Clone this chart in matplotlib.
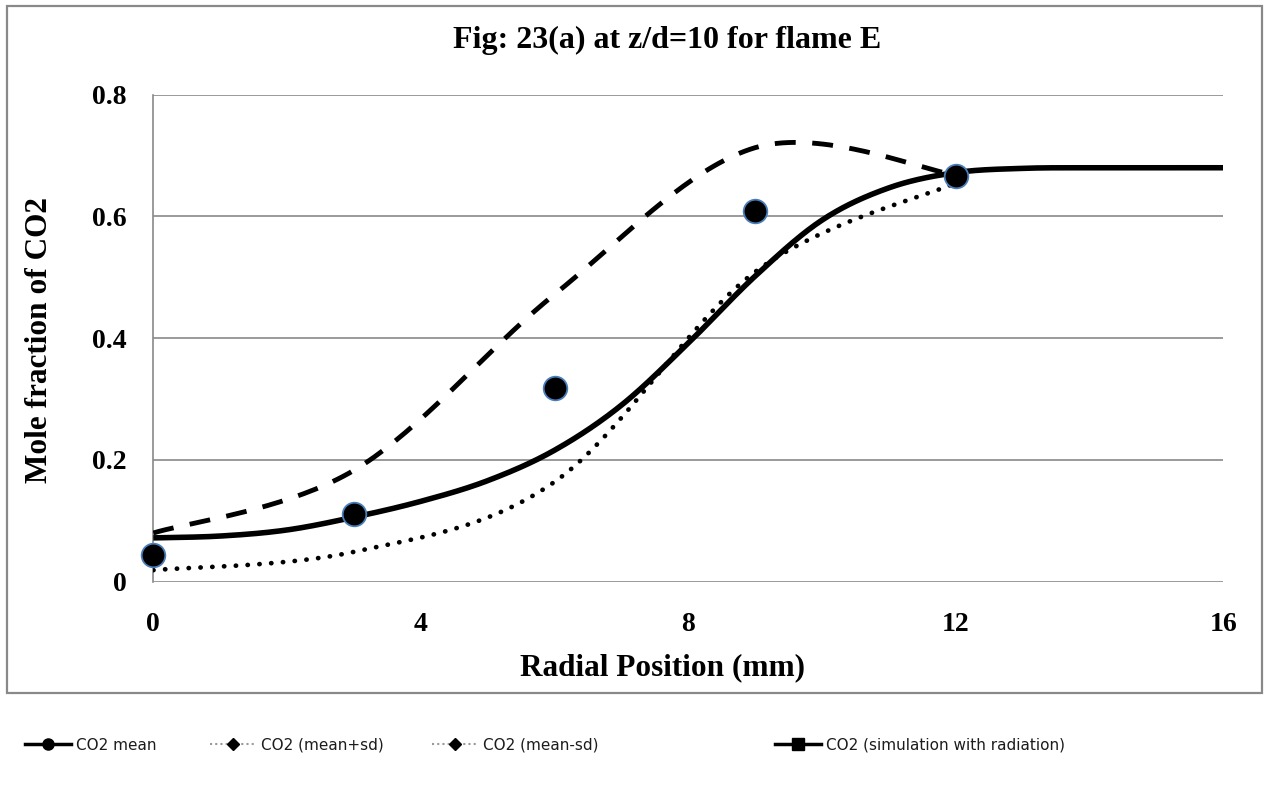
import numpy as np
import matplotlib
matplotlib.use("Agg")
import matplotlib.pyplot as plt
from matplotlib.lines import Line2D
from matplotlib.patches import Rectangle

# ---- data -------------------------------------------------------------
radial_mm = [0, 3, 6, 9, 12]
co2_mean = [0.044, 0.111, 0.318, 0.609, 0.666]
co2_mean_plus_sd = [0.080, 0.183, 0.472, 0.713, 0.668]
co2_mean_minus_sd = [0.019, 0.049, 0.164, 0.509, 0.655]

sim_radial_mm = [0, 1, 2, 3, 4, 5, 6, 7, 8, 9, 10, 11, 12, 13, 14, 15, 16]
co2_sim_radiation = [0.072, 0.075, 0.085, 0.106, 0.132, 0.166, 0.216, 0.290,
                     0.392, 0.502, 0.594, 0.647, 0.672, 0.679, 0.680, 0.680, 0.680]

x_ticks = [0, 4, 8, 12, 16]
y_ticks = [0, 0.2, 0.4, 0.6, 0.8]
y_tick_labels = ["0", "0.2", "0.4", "0.6", "0.8"]

title = "Fig: 23(a) at z/d=10 for flame E"
x_label = "Radial Position (mm)"
y_label = "Mole fraction of CO2"
legend_labels = ["CO2 mean", "CO2 (mean+sd)", "CO2 (mean-sd)",
                 "CO2 (simulation with radiation)"]


def smooth(xs, ys, n=40):
    """Spreadsheet-style smoothed line: cubic Bezier segments with
    Catmull-Rom control points (end points duplicated)."""
    p = np.column_stack([xs, ys]).astype(float)
    pts = np.vstack([p[0], p, p[-1]])
    out = []
    t = np.linspace(0, 1, n)[:, None]
    for i in range(1, len(pts) - 2):
        p0, p1, p2, p3 = pts[i - 1], pts[i], pts[i + 1], pts[i + 2]
        c1 = p1 + (p2 - p0) / 6.0
        c2 = p2 - (p3 - p1) / 6.0
        seg = ((1 - t) ** 3) * p1 + 3 * ((1 - t) ** 2) * t * c1 \
            + 3 * (1 - t) * t ** 2 * c2 + t ** 3 * p2
        out.append(seg if i == 1 else seg[1:])
    seg = np.vstack(out)
    return seg[:, 0], seg[:, 1]


serif = ["Liberation Serif", "DejaVu Serif"]
grid_grey = "#898989"
W, H = 1268, 789

fig = plt.figure(figsize=(W / 100, H / 100), dpi=100)
fig.patch.set_facecolor("white")

# outer chart border
fig.add_artist(Rectangle((6.7 / W, 1 - 693.3 / H),
                         (1262 - 6.7) / W, (693.3 - 5.7) / H,
                         transform=fig.transFigure, fill=False,
                         edgecolor=grid_grey, linewidth=1.6, zorder=0))

ax = fig.add_axes([153.3 / W, 1 - 581.7 / H,
                   (1223.3 - 153.3) / W, (581.7 - 94.7) / H])
ax.set_xlim(0, 16)
ax.set_ylim(0, 0.8)

for s in ["top", "right", "bottom"]:
    ax.spines[s].set_visible(False)
ax.spines["left"].set_color(grid_grey)
ax.spines["left"].set_linewidth(1.2)

ax.set_yticks(y_ticks)
ax.set_yticklabels(y_tick_labels)
ax.set_xticks(x_ticks)
ax.yaxis.grid(True, color=grid_grey, linewidth=1.2)
ax.set_axisbelow(True)
ax.tick_params(axis="both", length=0, labelsize=20)
ax.tick_params(axis="y", pad=19)
ax.tick_params(axis="x", pad=22)
for lab in ax.get_xticklabels() + ax.get_yticklabels():
    lab.set_fontfamily(serif)
    lab.set_fontweight("bold")

# curves
xs, ys = smooth(radial_mm, co2_mean_plus_sd)
ax.plot(xs, ys, color="black", linewidth=3.5, linestyle=(0, (4.3, 3.4)),
        dash_capstyle="butt", zorder=3)
xs, ys = smooth(radial_mm, co2_mean_minus_sd)
ax.plot(xs, ys, color="black", linewidth=3.4, linestyle=(0, (0.05, 2.45)),
        dash_capstyle="round", zorder=3)
xs, ys = smooth(sim_radial_mm, co2_sim_radiation)
ax.plot(xs, ys, color="black", linewidth=4.0, solid_capstyle="butt", zorder=4)

ax.plot(radial_mm, co2_mean, linestyle="none", marker="o", markersize=17,
        markerfacecolor="black", markeredgecolor="#4a7ebb",
        markeredgewidth=1.3, zorder=5, clip_on=False)

# titles, centred over the plot area including its tick labels
fig.text(667 / W, 1 - 48 / H, title, ha="center", va="baseline",
         fontfamily=serif, fontweight="bold", fontsize=23)
fig.text(662 / W, 1 - 675 / H, x_label, ha="center", va="baseline",
         fontfamily=serif, fontweight="bold", fontsize=22.5)
fig.text(40 / W, 1 - 340 / H, y_label, ha="center", va="center",
         rotation=90, fontfamily=serif, fontweight="bold", fontsize=22.5)

# legend below the chart border
handles = [
    Line2D([], [], color="black", linewidth=2.5, marker="o", markersize=8,
           markerfacecolor="black", markeredgecolor="black"),
    Line2D([], [], color="#9a9a9a", linewidth=1.5, linestyle=(0, (1, 1.5)),
           marker="D", markersize=6, markerfacecolor="black",
           markeredgecolor="black"),
    Line2D([], [], color="#9a9a9a", linewidth=1.5, linestyle=(0, (1, 1.5)),
           marker="D", markersize=6, markerfacecolor="black",
           markeredgecolor="black"),
    Line2D([], [], color="black", linewidth=2.5, marker="s", markersize=8,
           markerfacecolor="black", markeredgecolor="black"),
]
legend_x = [25, 210, 432, 775]
for h, lab, xp in zip(handles, legend_labels, legend_x):
    fig.legend(handles=[h], labels=[lab], loc="center left",
               bbox_to_anchor=(xp / W, 1 - 745 / H), frameon=False,
               borderpad=0, borderaxespad=0, handlelength=3.0,
               handletextpad=0.35, prop={"family": "DejaVu Sans", "size": 11},
               labelcolor="#1c1c1c")

fig.savefig("out.png", dpi=100, facecolor="white")
